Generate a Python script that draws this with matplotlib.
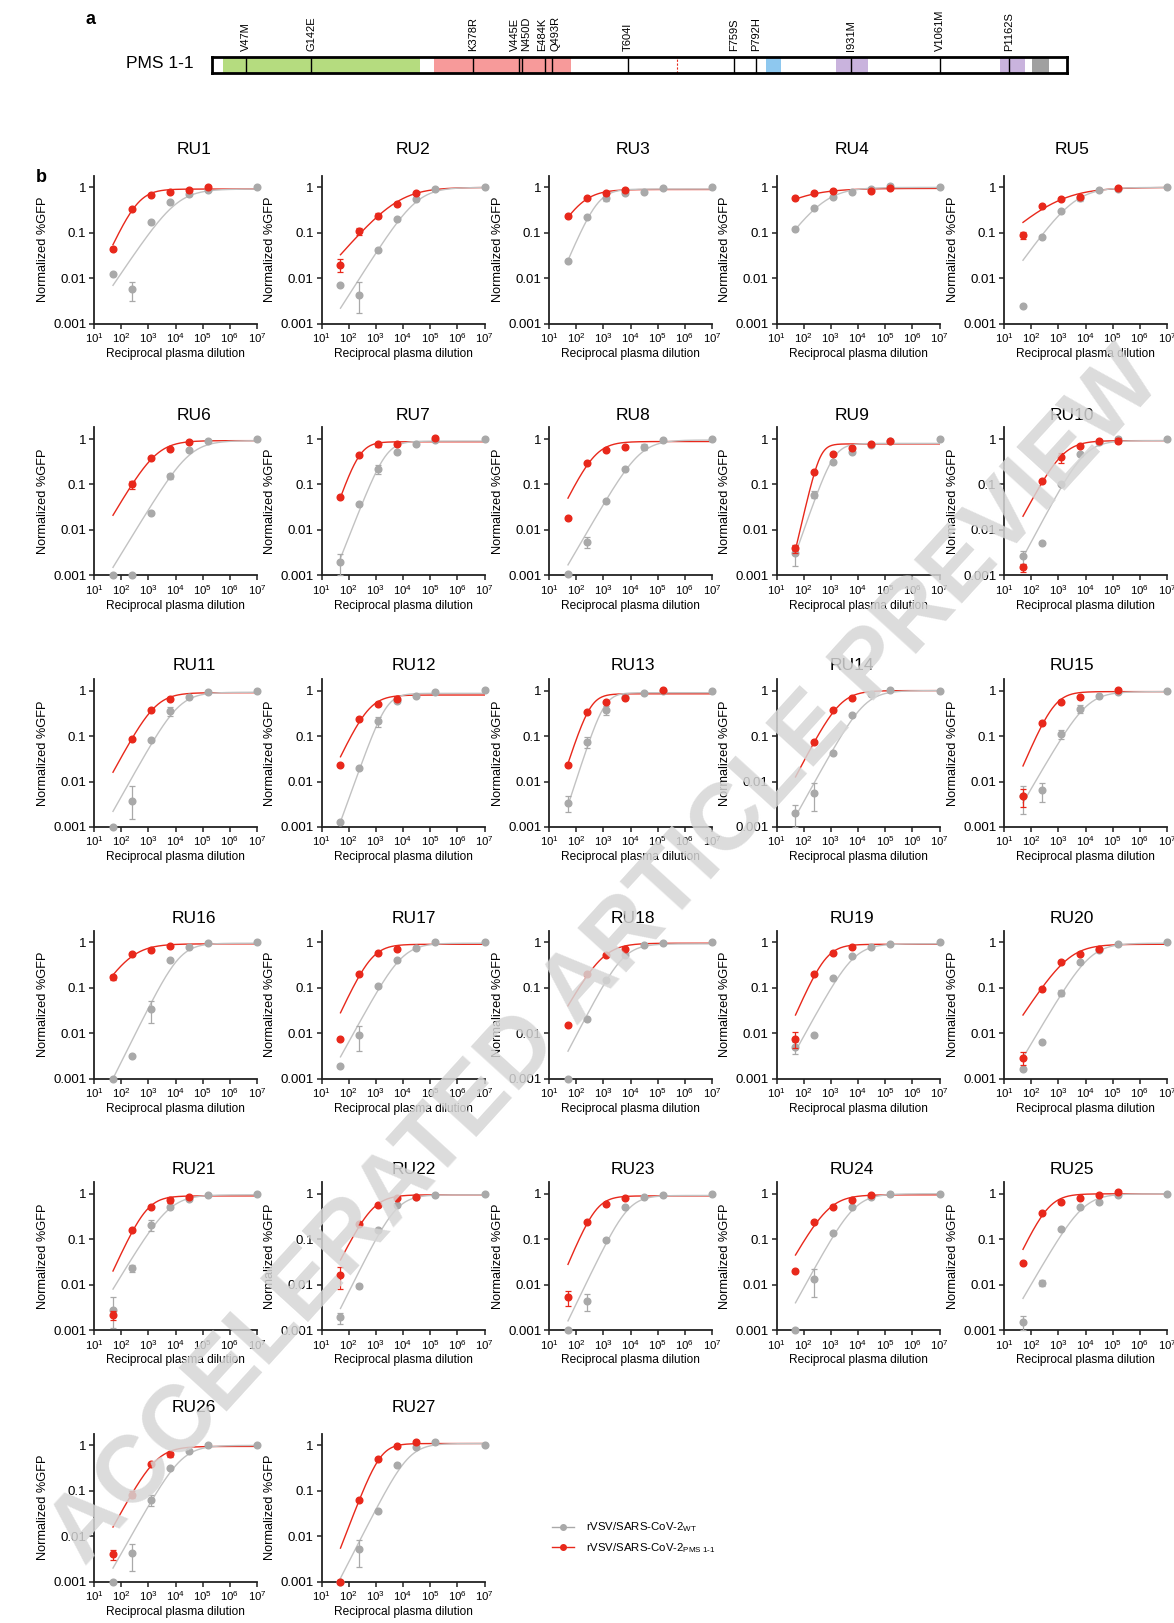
import numpy as np
import matplotlib
matplotlib.use("Agg")
import matplotlib.pyplot as plt
from matplotlib.lines import Line2D

plt.rcParams["font.family"] = ["Liberation Sans", "DejaVu Sans"]
plt.rcParams["mathtext.fontset"] = "custom"
plt.rcParams["mathtext.rm"] = "Liberation Sans"
plt.rcParams["mathtext.it"] = "Liberation Sans"

# ---- data -------------------------------------------------------------
# 1e7 is the no-plasma control
dilutions = np.array([50, 250, 1250, 6250, 31250, 156250, 1e7])
nan = np.nan

panels = ["RU%d" % i for i in range(1, 28)]

# normalized %GFP, rVSV/SARS-CoV-2 WT
wt_vals = [
    [0.0123, 0.0058, 0.169, 0.467, 0.70, 0.87, 1.0],
    [0.007, 0.0044, 0.042, 0.20, 0.55, 0.92, 1.0],
    [0.024, 0.22, 0.57, 0.74, 0.80, 0.95, 1.0],
    [0.123, 0.36, 0.62, 0.80, 0.92, 1.1, 1.0],
    [0.0024, 0.08, 0.30, 0.57, 0.87, 0.90, 1.0],
    [0.001, 0.001, 0.024, 0.15, 0.57, 0.92, 1.0],
    [0.002, 0.038, 0.22, 0.52, 0.77, 0.95, 1.0],
    [0.00105, 0.0055, 0.044, 0.215, 0.68, 0.95, 1.0],
    [0.0031, 0.06, 0.31, 0.52, 0.74, 0.92, 1.0],
    [0.0026, 0.0052, 0.10, 0.46, 0.87, 0.98, 1.0],
    [0.001, 0.0038, 0.08, 0.36, 0.74, 0.92, 1.0],
    [0.0013, 0.02, 0.21, 0.60, 0.76, 0.92, 1.03],
    [0.0034, 0.074, 0.37, 0.74, 0.87, 1.0, 1.0],
    [0.002, 0.0057, 0.043, 0.29, 0.83, 1.03, 1.0],
    [0.0048, 0.0065, 0.11, 0.40, 0.77, 0.95, 1.0],
    [0.001, 0.0031, 0.034, 0.40, 0.80, 0.98, 1.0],
    [0.0019, 0.009, 0.11, 0.40, 0.76, 1.0, 1.0],
    [0.001, 0.02, 0.146, 0.52, 0.87, 0.95, 1.0],
    [0.005, 0.009, 0.16, 0.50, 0.80, 0.92, 1.0],
    [0.0016, 0.0065, 0.076, 0.36, 0.68, 0.92, 1.0],
    [0.0028, 0.0235, 0.21, 0.50, 0.77, 0.92, 1.0],
    [0.0019, 0.0095, 0.16, 0.57, 0.87, 0.92, 1.0],
    [0.001, 0.0044, 0.095, 0.52, 0.85, 0.92, 1.0],
    [0.001, 0.0134, 0.14, 0.50, 0.83, 0.98, 1.0],
    [0.0015, 0.011, 0.17, 0.52, 0.65, 0.92, 1.0],
    [0.001, 0.0042, 0.064, 0.32, 0.77, 1.0, 1.0],
    [0.001, 0.0052, 0.036, 0.37, 0.92, 1.2, 1.0],
]
wt_sd = [
    [0, 0.0027, 0, 0, 0, 0, 0],
    [0, 0.004, 0, 0, 0, 0, 0],
    [0, 0, 0.08, 0, 0, 0, 0],
    [0, 0, 0, 0, 0, 0.1, 0],
    [0, 0, 0, 0.08, 0, 0, 0],
    [0, 0, 0, 0.02, 0, 0, 0],
    [0.001, 0, 0.05, 0, 0, 0, 0],
    [0, 0.0015, 0, 0, 0.1, 0, 0],
    [0.0015, 0.01, 0, 0, 0, 0, 0],
    [0.0008, 0, 0, 0, 0.1, 0.12, 0],
    [0, 0.004, 0, 0.08, 0, 0, 0],
    [0, 0, 0.05, 0, 0, 0, 0],
    [0.0013, 0.02, 0.08, 0, 0, 0, 0],
    [0.001, 0.0035, 0, 0, 0, 0, 0],
    [0.003, 0.003, 0.025, 0.08, 0, 0, 0],
    [0, 0, 0.017, 0, 0, 0, 0],
    [0, 0.005, 0, 0, 0, 0, 0],
    [0, 0, 0, 0, 0, 0, 0],
    [0.0015, 0, 0, 0, 0, 0, 0],
    [0, 0, 0.012, 0, 0, 0, 0],
    [0.0025, 0.004, 0.06, 0, 0, 0, 0],
    [0.0005, 0.001, 0, 0, 0, 0, 0],
    [0, 0.0017, 0, 0, 0, 0, 0],
    [0, 0.009, 0, 0, 0, 0.1, 0],
    [0.0005, 0.0015, 0, 0, 0, 0, 0],
    [0, 0.0025, 0.018, 0, 0, 0, 0],
    [0, 0.0033, 0, 0, 0, 0, 0],
]

# normalized %GFP, rVSV/SARS-CoV-2 PMS 1-1 (first six dilutions)
pms_vals = [
    [0.045, 0.33, 0.68, 0.78, 0.87, 1.0],
    [0.020, 0.11, 0.24, 0.44, 0.75, nan],
    [0.23, 0.57, 0.77, 0.87, nan, nan],
    [0.57, 0.76, 0.83, nan, 0.83, 0.95],
    [0.09, 0.385, 0.55, 0.62, nan, 0.95],
    [nan, 0.10, 0.39, 0.59, 0.86, nan],
    [0.054, 0.44, 0.77, 0.77, nan, 1.03],
    [0.018, 0.30, 0.57, 0.68, nan, nan],
    [0.0039, 0.19, 0.46, 0.62, 0.77, 0.92],
    [0.0015, 0.12, 0.40, 0.70, 0.90, 0.92],
    [nan, 0.088, 0.37, 0.65, nan, nan],
    [0.023, 0.24, 0.50, 0.64, nan, nan],
    [0.023, 0.34, 0.57, 0.70, nan, 1.03],
    [nan, 0.074, 0.37, 0.68, nan, nan],
    [0.0048, 0.195, 0.57, 0.74, nan, 1.03],
    [0.17, 0.54, 0.68, 0.83, nan, nan],
    [0.0075, 0.20, 0.57, 0.72, nan, nan],
    [0.015, 0.20, 0.52, 0.71, nan, nan],
    [0.0076, 0.20, 0.57, 0.77, nan, nan],
    [0.0029, 0.095, 0.36, 0.56, 0.71, nan],
    [0.0022, 0.16, 0.50, 0.74, 0.87, nan],
    [0.016, 0.215, 0.57, 0.80, 0.87, nan],
    [0.0054, 0.24, 0.60, 0.79, nan, nan],
    [0.020, 0.24, 0.50, 0.74, 0.92, nan],
    [0.030, 0.37, 0.67, 0.82, 0.95, 1.10],
    [0.0040, 0.083, 0.39, 0.64, nan, nan],
    [0.001, 0.062, 0.50, 0.95, 1.20, nan],
]
pms_sd = [
    [0.004, 0, 0, 0, 0, 0],
    [0.006, 0.02, 0.03, 0, 0, 0],
    [0, 0, 0, 0, 0, 0],
    [0, 0, 0, 0, 0, 0],
    [0.015, 0, 0, 0, 0, 0],
    [0, 0.02, 0, 0, 0, 0],
    [0, 0, 0.1, 0, 0, 0],
    [0, 0, 0, 0, 0, 0],
    [0.0008, 0, 0, 0, 0, 0],
    [0.0003, 0, 0.1, 0, 0, 0.12],
    [0, 0, 0, 0, 0, 0],
    [0, 0, 0, 0, 0, 0],
    [0, 0, 0, 0, 0, 0],
    [0, 0, 0, 0, 0, 0],
    [0.002, 0, 0, 0, 0, 0],
    [0.02, 0, 0, 0, 0, 0],
    [0, 0, 0, 0, 0, 0],
    [0, 0, 0, 0, 0, 0],
    [0.003, 0, 0, 0, 0, 0],
    [0.0009, 0, 0, 0, 0, 0],
    [0.0005, 0, 0, 0.1, 0, 0],
    [0.008, 0, 0, 0, 0, 0],
    [0.002, 0, 0, 0, 0, 0],
    [0, 0, 0, 0, 0, 0],
    [0, 0, 0, 0, 0, 0],
    [0.001, 0.015, 0, 0.08, 0, 0],
    [0, 0, 0, 0, 0, 0],
]

# fitted curves: plateau and value at the first dilution
wt_top = [0.92, 1.0, 0.92, 1.0, 1.0, 0.92, 0.9, 0.95, 0.8, 0.92, 0.92, 0.87, 0.9, 1.0,
          0.95, 0.95, 0.95, 0.92, 0.92, 0.95, 0.95, 0.95, 0.92, 1.0, 1.0, 1.0, 1.1]
wt_start = [0.007, 0.0022, 0.025, 0.12, 0.025, 0.0015, 0.0024, 0.0017, 0.003, 0.0025,
            0.0022, 0.0013, 0.003, 0.0017, 0.0034, 0.001, 0.003, 0.004, 0.004, 0.0029,
            0.008, 0.003, 0.0016, 0.004, 0.005, 0.002, 0.0012]
pms_top = [0.92, 1.0, 0.9, 0.95, 1.0, 0.92, 0.87, 0.88, 0.78, 0.92, 0.9, 0.8, 0.85, 1.0,
           0.95, 0.92, 0.9, 0.95, 0.9, 0.9, 0.9, 0.95, 0.9, 0.95, 1.0, 0.95, 1.1]
pms_start = [0.055, 0.033, 0.22, 0.55, 0.17, 0.021, 0.052, 0.05, 0.0037, 0.02, 0.016,
             0.035, 0.025, 0.0126, 0.022, 0.19, 0.028, 0.04, 0.025, 0.025, 0.02, 0.035,
             0.028, 0.045, 0.06, 0.016, 0.0055]

# spike map (panel a)
spike_len = [-3, 1246]
domain_start = [13, 322, 806, 909, 1148, 1195]
domain_end = [301, 521, 828, 956, 1185, 1220]
domain_color = ["#b5dc7f", "#f79a9a", "#8ec8ef", "#c9b3dd", "#c9b3dd", "#a0a0a0"]
cleavage_site = 677
mut_pos = [47, 142, 378, 445, 450, 484, 493, 604, 759, 792, 931, 1061, 1162]
mut_label = ["V47M", "G142E", "K378R", "V445E", "N450D", "E484K", "Q493R",
             "T604I", "F759S", "P792H", "I931M", "V1061M", "P1162S"]

GREY = "#a9a9a9"
GREY_LINE = "#c2c2c2"
RED = "#e8281b"
X0 = 50.0


def hill_fit(x, y, top, start):
    """logistic through (50, start) with plateau top; Hill slope fitted to the points"""
    m = ~np.isnan(y) & (y > 0.0011) & (y < 0.95 * top) & (x > X0) & (x < 1e6)
    hs = np.arange(0.4, 4.0, 0.01)
    best, best_h = np.inf, 1.0
    for h in hs:
        lec = np.log10(X0) + np.log10(top / start - 1) / h
        pred = top / (1 + 10 ** ((lec - np.log10(x[m])) * h))
        res = np.sum((np.log10(pred) - np.log10(y[m])) ** 2)
        if res < best:
            best, best_h = res, h
    lec = np.log10(X0) + np.log10(top / start - 1) / best_h
    return top, lec, best_h


def curve(params, xs):
    t, lec, h = params
    return t / (1.0 + 10 ** ((lec - np.log10(xs)) * h))


def err_bounds(v, sd):
    v = np.asarray(v, float)
    sd = np.asarray(sd, float)
    lo = np.minimum(sd, np.where(np.isnan(v), 0, v) * 0.6)
    return np.vstack([lo, sd])


# ---- layout -----------------------------------------------------------
FW, FH = 1174, 1623
fig = plt.figure(figsize=(FW / 100, FH / 100), dpi=100)

col_left = 94
col_step = 227.5
ax_w = 163
row_one = 187.4
row_step = 251.6
decade = 45.45
y_top = 1.8
ax_h = 3 * decade + np.log10(y_top) * decade
title_gap = [38, 24, 25, 24, 24, 38]

xs = np.logspace(np.log10(X0), 7, 300)

for k, name in enumerate(panels):
    r, c = divmod(k, 5)
    y1 = row_one + r * row_step
    bottom = FH - (y1 + 3 * decade)
    ax = fig.add_axes([(col_left + c * col_step) / FW, bottom / FH, ax_w / FW, ax_h / FH])
    ax.set_xscale("log")
    ax.set_yscale("log")

    wt = np.array(wt_vals[k], float)
    pm = np.array(pms_vals[k], float)

    p_pm = hill_fit(dilutions[:6], pm, pms_top[k], pms_start[k])
    p_wt = hill_fit(dilutions, wt, wt_top[k], wt_start[k])
    ax.plot(xs, curve(p_pm, xs), color=RED, lw=1.0, zorder=2)
    ax.plot(xs, curve(p_wt, xs), color=GREY_LINE, lw=1.0, zorder=2.5)

    ax.errorbar(dilutions, wt, yerr=err_bounds(wt, wt_sd[k]), fmt="o", ms=4.8,
                color=GREY, ecolor=GREY, elinewidth=0.9, capsize=2.2, capthick=0.9,
                mec=GREY, zorder=3, clip_on=False)
    ax.errorbar(dilutions[:6], pm, yerr=err_bounds(pm, pms_sd[k]), fmt="o", ms=4.8,
                color=RED, ecolor=RED, elinewidth=0.9, capsize=2.2, capthick=0.9,
                mec=RED, zorder=4, clip_on=False)

    ax.set_xlim(10, 1e7)
    ax.set_ylim(0.001, y_top)
    ax.set_xticks([10.0 ** e for e in range(1, 8)])
    ax.set_xticklabels([r"$10^{%d}$" % e for e in range(1, 8)])
    ax.set_yticks([0.001, 0.01, 0.1, 1])
    ax.set_yticklabels(["0.001", "0.01", "0.1", "1"])
    ax.minorticks_off()
    for s in ["top", "right"]:
        ax.spines[s].set_visible(False)
    for s in ["left", "bottom"]:
        ax.spines[s].set_linewidth(1.3)
        ax.spines[s].set_color("#222222")
    ax.tick_params(axis="both", direction="out", length=3.5, width=1.1,
                   color="#222222", pad=2)
    ax.tick_params(axis="x", labelsize=8.2)
    ax.tick_params(axis="y", labelsize=9.5)
    ax.set_xlabel("Reciprocal plasma dilution", fontsize=8.6, labelpad=2)
    ax.set_ylabel("Normalized %GFP", fontsize=9.2, labelpad=3)

    fig.text((194 + 219.4 * c) / FW, 1 - (y1 - title_gap[r]) / FH, name,
             ha="center", va="center", fontsize=12.5)

# ---- panel a: spike map -----------------------------------------------
axm = fig.add_axes([212 / FW, 1 - 72.5 / FH, 855 / FW, 15.5 / FH])
axm.set_xlim(spike_len)
axm.set_ylim(0, 1)
for a, b_, col in zip(domain_start, domain_end, domain_color):
    axm.axvspan(a, b_, color=col, lw=0)
axm.axvline(cleavage_site, color=RED, lw=0.8, ls=(0, (2, 1.5)))
label_shift = {"V445E": -4, "N450D": 4, "E484K": -3.5, "Q493R": 3.5}
for p, lab in zip(mut_pos, mut_label):
    axm.axvline(p, color="black", lw=1.0)
    axm.annotate(lab, xy=(p, 1), xycoords=("data", "axes fraction"),
                 xytext=(label_shift.get(lab, 0), 6), textcoords="offset pixels",
                 rotation=90, ha="center", va="bottom", fontsize=8.0)
axm.set_xticks([])
axm.set_yticks([])
for s in axm.spines.values():
    s.set_linewidth(2.0)
fig.text(160 / FW, 1 - 64 / FH, "PMS 1-1", ha="center", va="center", fontsize=12.5)
fig.text(91 / FW, 1 - 19 / FH, "a", ha="center", va="center", fontsize=13, weight="bold")
fig.text(41 / FW, 1 - 178 / FH, "b", ha="center", va="center", fontsize=13, weight="bold")

# ---- legend -----------------------------------------------------------
handles = [
    Line2D([], [], color=GREY, marker="o", ms=4, lw=1.0),
    Line2D([], [], color=RED, marker="o", ms=4, lw=1.0),
]
labels = [r"rVSV/SARS-CoV-2$_{\mathrm{WT}}$", r"rVSV/SARS-CoV-2$_{\mathrm{PMS\ 1\text{-}1}}$"]
fig.legend(handles, labels, loc="upper left", bbox_to_anchor=(546 / FW, 1 - 1515 / FH),
           frameon=False, fontsize=8.2, handlelength=2.0, handletextpad=1.0,
           labelspacing=0.55, borderpad=0)

# ---- watermark --------------------------------------------------------
fig.text(606 / FW, 1 - 958 / FH, "ACCELERATED ARTICLE PREVIEW", rotation=47.7,
         rotation_mode="anchor", ha="center", va="center", fontsize=68,
         weight="bold", color="#d6d6d6", alpha=0.85, zorder=10)

fig.savefig("out.png", dpi=100)
